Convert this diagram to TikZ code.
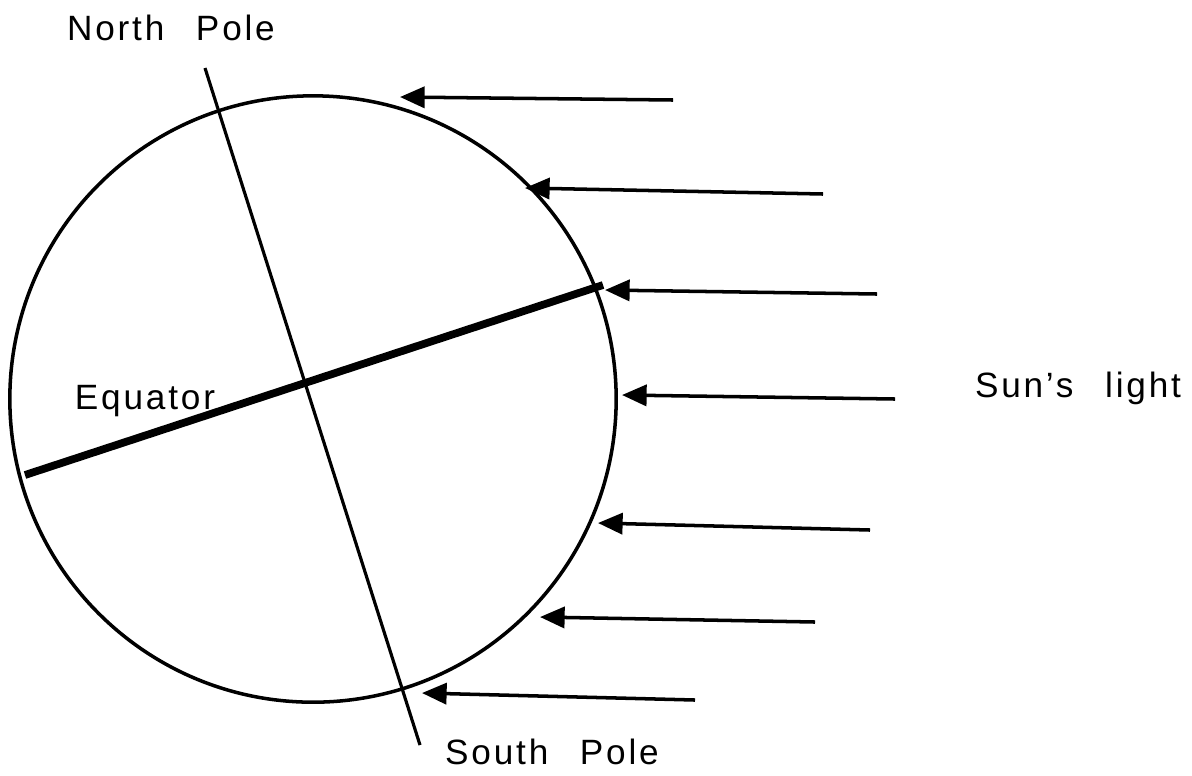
\documentclass[tikz,border=0pt]{standalone}
\usepackage{fontspec}
\setmainfont{Liberation Sans}[LetterSpace=8]
\usetikzlibrary{arrows.meta}

\begin{document}
\begin{tikzpicture}[
      x=0.01cm, y=-0.01cm,
      globe/.style={draw, circle, line width=1pt, inner sep=0pt, minimum size=6.06cm},
      axisline/.style={line width=0.9pt},
      equatorline/.style={line width=2.2pt},
      ray/.style={-{Triangle[length=7pt, width=6pt]}, line width=1pt},
      lbl/.style={font=\fontsize{10}{12}\selectfont, inner sep=0pt}
    ]
      \useasboundingbox (0,0) rectangle (1192,775);

      \node[globe] (earth) at (313,399) {};

      % axis and equator
      \coordinate (np) at (205,68);
      \coordinate (sp) at (420,745);
      \coordinate (eqw) at (25,475);
      \coordinate (eqe) at (603,285);
      \draw[axisline] (np) -- (sp);
      \draw[equatorline] (eqw) -- (eqe);

      % sun rays
      \foreach \i/\xs/\ys/\xe/\ye in {1/673/100/400/97, 2/823/194/525/188,
          3/877/294/605/290, 4/895/399/622/395, 5/870/530/598/523,
          6/815/622/540/617, 7/695/700/422/693} {
        \coordinate (rs\i) at (\xs,\ys);
        \coordinate (re\i) at (\xe,\ye);
        \draw[ray] (rs\i) -- (re\i);
      }

      \node[lbl] (north) at (171,28) {North\hspace{0.9em}Pole};
      \node[lbl] (south) at (552,752) {South\hspace{0.9em}Pole};
      \node[lbl] (equator) at (145,401) {Equator};
      \node[lbl] (sun) at (1078,388) {Sun's\hspace{0.9em}light};
    \end{tikzpicture}
\end{document}
